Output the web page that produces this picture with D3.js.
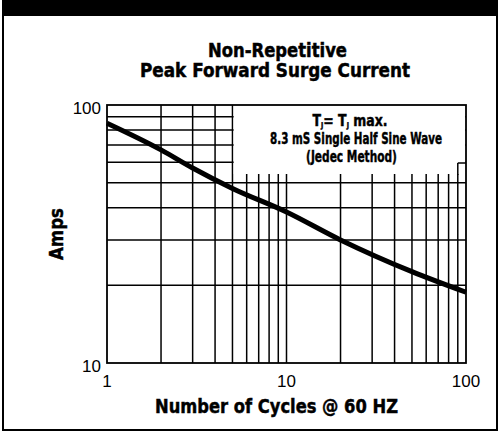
<!DOCTYPE html>
<html><head><meta charset="utf-8">
<script src="https://cdn.jsdelivr.net/npm/d3@7"></script>
<style>
html,body{margin:0;padding:0;background:#fff;}
svg{display:block;}
.cond{font-family:"Liberation Sans Narrow","Arial Narrow","DejaVu Sans Condensed","Liberation Sans",sans-serif;font-weight:bold;stroke:#000;stroke-width:0.45px;}
.reg{font-family:"Liberation Sans",Arial,Helvetica,sans-serif;}
</style></head>
<body>
<script>
// Data
const cycles = [1, 2, 3, 5, 10, 20, 50, 100];
const amps   = [85, 67, 57, 47.5, 38.5, 30, 22.6, 18.8];
const xGridValues = [2,3,4,5,6,7,8,9,10,20,30,40,50,60,70,80,90];
const yGridValues = [20,30,40,50,60,70,80,90];
const xTickLabels = [1, 10, 100];
const yTickLabels = [10, 100];
const titleLines = ["Non-Repetitive", "Peak Forward Surge Current"];
const xTitle = "Number of Cycles @ 60 HZ";
const yTitle = "Amps";
const legendLines = ["8.3 mS Single Half Sine Wave", "(Jedec Method)"];

const W = 500, H = 433;
const svg = d3.select("body").append("svg").attr("width", W).attr("height", H);

// Frame
svg.append("rect").attr("x",0).attr("y",0).attr("width",W).attr("height",H).attr("fill","#fff");
svg.append("rect").attr("x",3).attr("y",1).attr("width",494).attr("height",429)
  .attr("fill","none").attr("stroke","#000").attr("stroke-width",2);
svg.append("rect").attr("x",2).attr("y",0).attr("width",496).attr("height",16).attr("fill","#000");

const x = d3.scaleLog().domain([1,100]).range([107,466]);
const y = d3.scaleLog().domain([10,100]).range([363,105]);

const g = svg.append("g");
// grid
g.selectAll(".vg").data(xGridValues).enter().append("line")
  .attr("x1", d=>x(d)).attr("x2", d=>x(d)).attr("y1", y(100)).attr("y2", y(10))
  .attr("stroke","#000").attr("stroke-width",1.5);
g.selectAll(".hg").data(yGridValues).enter().append("line")
  .attr("x1", x(1)).attr("x2", x(100)).attr("y1", d=>y(d)).attr("y2", d=>y(d))
  .attr("stroke","#000").attr("stroke-width",1.5);

// legend mask
g.append("rect").attr("x", x(5)+1.2).attr("y", y(100)).attr("width", x(100)-x(5)-2).attr("height", 69)
  .attr("fill","#fff");
g.append("line").attr("x1", x(90)).attr("x2", x(90)).attr("y1", 163).attr("y2", 175)
  .attr("stroke","#000").attr("stroke-width",1.5);
g.append("line").attr("x1", x(90)).attr("x2", x(100)).attr("y1", 163).attr("y2", 163)
  .attr("stroke","#000").attr("stroke-width",1.5);

// plot border
g.append("rect").attr("x", x(1)).attr("y", y(100)).attr("width", x(100)-x(1)).attr("height", y(10)-y(100))
  .attr("fill","none").attr("stroke","#000").attr("stroke-width",1.8);

// curve
const pts = cycles.map((c,i)=>[c, amps[i]]);
g.append("path").datum(pts)
  .attr("d", d3.line().x(d=>x(d[0])).y(d=>y(d[1])).curve(d3.curveMonotoneX))
  .attr("fill","none").attr("stroke","#000").attr("stroke-width",5);

// tick labels
svg.selectAll(".xt").data(xTickLabels).enter().append("text")
  .attr("class","reg").attr("x", d=>x(d)).attr("y", 387).attr("text-anchor","middle")
  .attr("font-size", 17).text(d=>d);
svg.selectAll(".yt").data(yTickLabels).enter().append("text")
  .attr("class","reg").attr("x", 101).attr("y", d=>y(d)+9).attr("text-anchor","end")
  .attr("font-size", 17).text(d=>d);

// title
svg.append("text").attr("class","cond").attr("x",277.5).attr("y",57).attr("text-anchor","middle")
  .attr("font-size",19).attr("textLength",139).attr("lengthAdjust","spacingAndGlyphs").text(titleLines[0]);
svg.append("text").attr("class","cond").attr("x",275).attr("y",77).attr("text-anchor","middle")
  .attr("font-size",19).attr("textLength",270).attr("lengthAdjust","spacingAndGlyphs").text(titleLines[1]);

// axis titles
svg.append("text").attr("class","cond").attr("x",276.5).attr("y",413).attr("text-anchor","middle")
  .attr("font-size",20).attr("textLength",243).attr("lengthAdjust","spacingAndGlyphs").text(xTitle);
svg.append("text").attr("class","cond").attr("transform","translate(63,234) rotate(-90)")
  .attr("text-anchor","middle").attr("font-size",20).attr("textLength",52).attr("lengthAdjust","spacingAndGlyphs").text(yTitle);

// legend text (horizontally squeezed with a scale transform)
function squeezed(cx, cy, width, size, build) {
  const gg = svg.append("g");
  const t = gg.append("text").attr("class","cond").attr("x",0).attr("y",0)
    .attr("text-anchor","middle").attr("font-size",size);
  build(t);
  const nat = t.node().getComputedTextLength();
  const sx = Math.min(1, width / nat);
  gg.attr("transform", `translate(${cx},${cy}) scale(${sx},1)`);
}
squeezed(350, 126, 75, 16.5, t => {
  t.append("tspan").text("T");
  t.append("tspan").attr("font-size",8).attr("baseline-shift","-25%").text("J");
  t.append("tspan").text("= T");
  t.append("tspan").attr("font-size",8).attr("baseline-shift","-25%").text("J");
  t.append("tspan").text(" max.");
});
squeezed(356, 144, 172, 16.5, t => t.text(legendLines[0]));
squeezed(351.5, 162, 91, 16.5, t => t.text(legendLines[1]));
</script>
</body></html>
